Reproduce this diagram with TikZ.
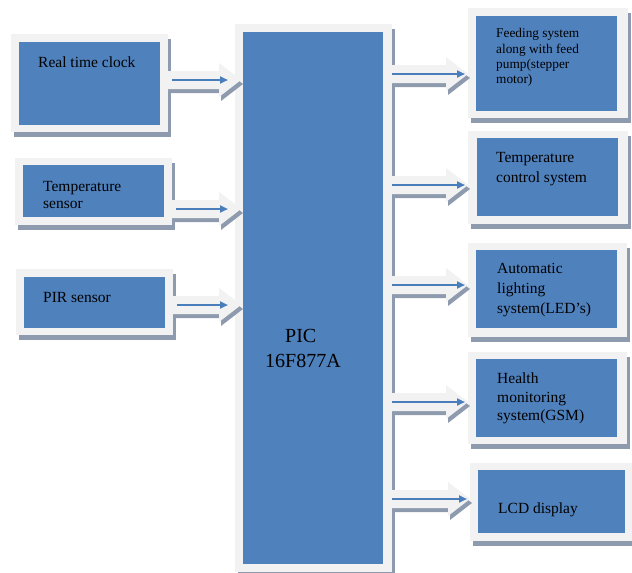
\documentclass[tikz,border=0pt]{standalone}
\usepackage{fontspec}
\setmainfont{Liberation Serif}
\usetikzlibrary{fit,calc,arrows.meta}
\definecolor{boxblue}{HTML}{4F81BD}
\definecolor{framec}{HTML}{F2F2F2}
\definecolor{shadowc}{HTML}{8E9BAE}
\definecolor{arrblue}{HTML}{4A7EBB}
\tikzset{
 framebox/.style={fill=framec, inner sep=0pt, outer sep=0pt, draw=none},
 innerbox/.style={fill=boxblue, inner sep=0pt, outer sep=0pt, draw=none},
 txt/.style={anchor=base west, inner sep=0pt, text=black, font=\fontsize{15.5}{18}\selectfont},
 smalltxt/.style={txt, font=\fontsize{13.3}{16}\selectfont},
 bigtxt/.style={txt, font=\fontsize{20}{24}\selectfont},
 bluearr/.style={draw=arrblue, line width=2.4pt, -{Triangle[length=8pt,width=7pt]}},
}
\newcommand\blk[5]{%
  \fill[shadowc, shift={(3,5)}] (#2) rectangle (#3);
  \node[framebox, fit={(#2) (#3)}] (#1) {};
  \node[innerbox, fit={(#4) (#5)}] (#1-in) {};
}
\newcommand\flow[5]{%
  \fill[shadowc] let \p1=(#1), \p2=(#2) in
   (\x1+2pt,\y1+5pt) -- (\x2+#3-20pt,\y1+5pt) -- (\x2+#3-20pt,\y1+13pt) -- (\x2+#3+2pt,\y1-4pt) -- (\x2+#3-20pt,\y1-21pt) -- (\x2+#3-20pt,\y1-13pt) -- (\x1+2pt,\y1-13pt) -- cycle;
  \fill[framec] let \p1=(#1), \p2=(#2) in
   (\x1,\y1+9pt) -- (\x2+#3-22pt,\y1+9pt) -- (\x2+#3-22pt,\y1+17pt) -- (\x2+#3,\y1) -- (\x2+#3-22pt,\y1-17pt) -- (\x2+#3-22pt,\y1-9pt) -- (\x1,\y1-9pt) -- cycle;
  \draw[bluearr, shorten <=#4, shorten >=#5] (#1) -- (#2);
}
\begin{document}
\begin{tikzpicture}[x=1pt,y=-1pt]
\fill[white] (0,0) rectangle (632,573);
\useasboundingbox (0,0) rectangle (632,573);
% boxes
\blk{rtc}{11,34}{168,132}{19,42}{160,125}
\blk{tsens}{15,158}{172,225}{23,165}{164,217}
\blk{pir}{16,269}{173,335}{24,277}{165,328}
\blk{pic}{235,24}{392,572}{243,32}{383,564}
\blk{feed}{468,8}{628,118}{476,16}{617,111}
\blk{tctrl}{468,131}{628,224}{477,138}{618,216}
\blk{light}{468,243}{627,337}{476,250}{617,328}
\blk{health}{468,352}{627,444}{476,359}{617,437}
\blk{lcd}{470,463}{632,541}{478,470}{625,533}
% arrows
\flow{rtc.east |- 0,80}{pic.west |- 0,80}{6pt}{4pt}{7pt}
\flow{tsens.east |- 0,209}{pic.west |- 0,209}{6pt}{4pt}{7pt}
\flow{pir.east |- 0,305}{pic.west |- 0,305}{6pt}{4pt}{7pt}
\flow{pic.east |- 0,74}{feed.west |- 0,74}{0pt}{0pt}{3pt}
\flow{pic.east |- 0,185}{tctrl.west |- 0,185}{0pt}{0pt}{3pt}
\flow{pic.east |- 0,285}{light.west |- 0,285}{0pt}{0pt}{3pt}
\flow{pic.east |- 0,402}{health.west |- 0,402}{0pt}{0pt}{3pt}
\flow{pic.east |- 0,499}{lcd.west |- 0,499}{0pt}{0pt}{3pt}
% texts
\node[txt] (t-rtc) at (38,67) {Real time clock};
\node[txt] (t-ts1) at (43,191) {Temperature};
\node[txt] (t-ts2) at (43,208) {sensor};
\node[txt] (t-pir) at (43,302) {PIR sensor};
\node[bigtxt] (t-pic1) at (285,342) {PIC};
\node[bigtxt] (t-pic2) at (265,367) {16F877A};
\node[smalltxt] (t-fd1) at (496,37) {Feeding system};
\node[smalltxt] (t-fd2) at (496,53) {along with feed};
\node[smalltxt] (t-fd3) at (496,68) {pump(stepper};
\node[smalltxt] (t-fd4) at (496,83) {motor)};
\node[txt] (t-tc1) at (496,162) {Temperature};
\node[txt] (t-tc2) at (496,182) {control system};
\node[txt] (t-li1) at (497,273) {Automatic};
\node[txt] (t-li2) at (497,293) {lighting};
\node[txt] (t-li3) at (497,313) {system(LED’s)};
\node[txt] (t-he1) at (497,383) {Health};
\node[txt] (t-he2) at (497,402) {monitoring};
\node[txt] (t-he3) at (497,420) {system(GSM)};
\node[txt] (t-lcd) at (498,513) {LCD display};
\end{tikzpicture}
\end{document}
